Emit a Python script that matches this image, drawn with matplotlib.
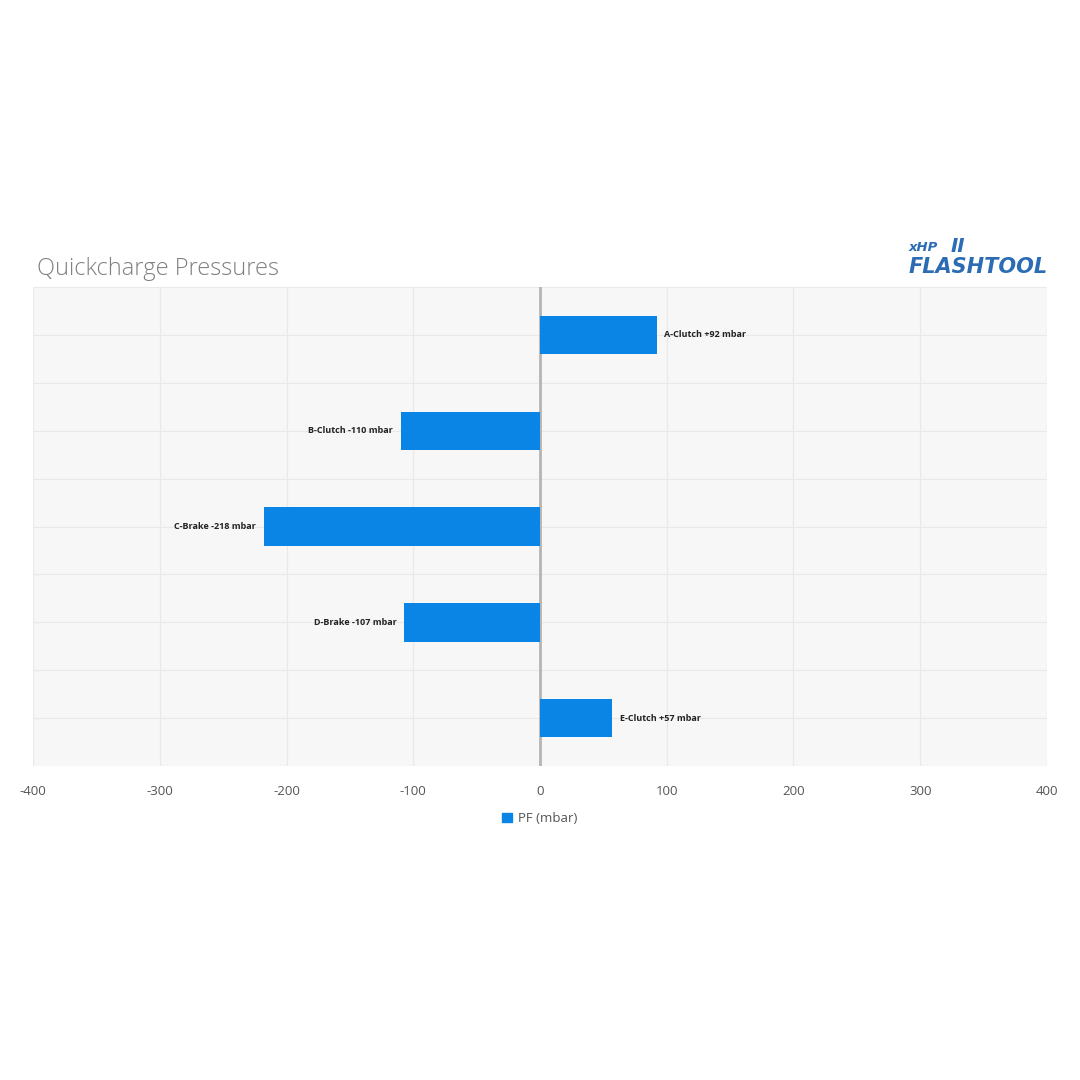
import matplotlib.pyplot as plt
from matplotlib.patches import Patch

plt.rcParams['font.family'] = ['Open Sans', 'DejaVu Sans']

# data
parts = ["A-Clutch", "B-Clutch", "C-Brake", "D-Brake", "E-Clutch"]
pf_mbar = [92, -110, -218, -107, 57]
xticks = [-400, -300, -200, -100, 0, 100, 200, 300, 400]

fig = plt.figure(figsize=(10.8, 10.8), dpi=100)
ax = fig.add_axes([0.0306, 0.2907, 0.9388, 0.4435])
ax.set_facecolor("#f7f7f7")

ypos = list(range(len(parts)))
ax.barh(ypos, pf_mbar, height=0.4, color="#0a85e6", zorder=3)

# value labels next to each bar end
for y, name, v in zip(ypos, parts, pf_mbar):
    sign = "+" if v > 0 else ""
    txt = f"{name} {sign}{v} mbar"
    if v > 0:
        ax.text(v + 6, y, txt, va="center", ha="left", fontsize=6.5,
                fontweight="bold", color="#222222", zorder=4)
    else:
        ax.text(v - 6, y, txt, va="center", ha="right", fontsize=6.5,
                fontweight="bold", color="#222222", zorder=4)

ax.set_xlim(-400, 400)
ax.set_ylim(len(parts) - 0.5, -0.5)
ax.set_xticks(xticks)
ax.set_xticklabels([str(t) for t in xticks], fontsize=9.5, color="#555555")
ax.tick_params(axis="x", length=0, pad=14)

# gridlines at band edges and centres
ax.set_yticks([i - 0.5 for i in range(len(parts) + 1)] + ypos)
ax.set_yticklabels([])
ax.tick_params(axis="y", length=0)
ax.grid(True, color="#e9e9e9", linewidth=0.9, zorder=0)
ax.axvline(0, color="#b5b5b5", linewidth=2, zorder=2)

for s in ax.spines.values():
    s.set_visible(False)

fig.text(0.034, 0.751, "Quickcharge Pressures", fontsize=17, color="#808080",
         fontweight="light", ha="left", va="center")

# logo
fig.text(0.97, 0.753, "FLASHTOOL", fontsize=15, fontweight="bold",
         family="DejaVu Sans", style="italic", color="#2b6cb4",
         ha="right", va="center")
fig.text(0.841, 0.771, "xHP", fontsize=9.5, fontweight="bold",
         family="DejaVu Sans", style="italic", color="#2b6cb4",
         ha="left", va="center")
fig.text(0.88, 0.772, "II", fontsize=14, fontweight="bold",
         family="DejaVu Sans", style="italic", color="#2b6cb4",
         ha="left", va="center")

fig.legend(handles=[Patch(color="#0a85e6", label="PF (mbar)")],
           loc="center", bbox_to_anchor=(0.5, 0.242), frameon=False,
           fontsize=9.5, handlelength=0.7, handleheight=0.7,
           handletextpad=0.5, labelcolor="#555555")

fig.savefig("out.png", dpi=100, facecolor="white")
